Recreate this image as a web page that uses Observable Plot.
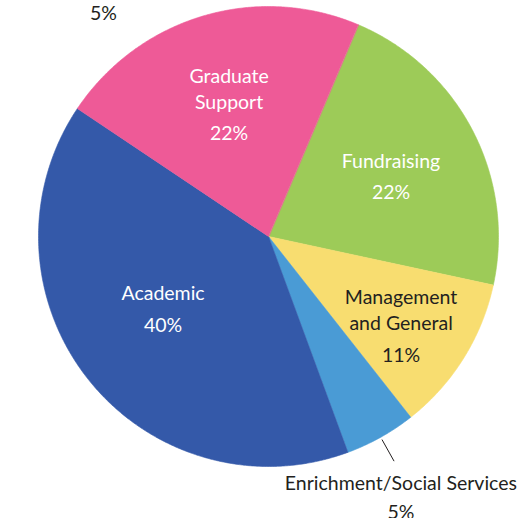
<!DOCTYPE html>
<html><head><meta charset="utf-8">
<script src="https://cdn.jsdelivr.net/npm/d3@7"></script>
<script src="https://cdn.jsdelivr.net/npm/@observablehq/plot@0.6"></script>
<style>
html,body{margin:0;padding:0;background:#fff;}
#chart svg{display:block;}
</style></head><body><div id="chart"></div>
<script>
// ---- data ----
const categories = ["Fundraising", "Management and General", "Enrichment/Social Services", "Academic", "Graduate Support"];
const nameLines = [["Fundraising"], ["Management", "and General"], ["Enrichment/Social Services"], ["Academic"], ["Graduate", "Support"]];
const shares = [22, 11, 5, 40, 22];
const percentLabels = ["22%", "11%", "5%", "40%", "22%"];
const sliceColors = ["#9dcb58", "#f8dd70", "#4a9bd5", "#3459a9", "#ee5a97"];
const strayLabel = ["5%"];

// ---- layout ----
const W = 531, H = 518, CX = 268, CY = 236, R = 230;
const startDeg = 23;
const fontSize = 19.5, nameGap = 26, pctGap = 31.5;
const dark = "#231f20";
const labelStyle = {
  "Fundraising": {r: 0.6, dx: 0, dy: 2, color: "white"},
  "Management and General": {r: 0.69, dx: -2, dy: 4, color: dark},
  "Academic": {r: 0.6, dx: 3, dy: -14, color: "white"},
  "Graduate Support": {r: 0.6, dx: 0, dy: -1, color: "white"},
  "Enrichment/Social Services": {outside: true, color: dark}
};

const table = categories.map((c, i) => ({cat: c, share: shares[i], lines: nameLines[i], pct: percentLabels[i]}));
const rad = Math.PI / 180;
const arcs = d3.pie().sort(null).value(d => d.share)
  .startAngle(startDeg * rad).endAngle(startDeg * rad + 2 * Math.PI)(table);

// polar -> plot coordinates (x right, y down, centred on pie)
const pt = (r, a) => [r * Math.sin(a), -r * Math.cos(a)];

const slicePts = [];
for (const a of arcs) {
  slicePts.push({cat: a.data.cat, x: 0, y: 0});
  const n = Math.max(2, Math.ceil((a.endAngle - a.startAngle) / (0.4 * rad)));
  for (let k = 0; k <= n; k++) {
    const t = a.startAngle + (a.endAngle - a.startAngle) * k / n;
    const [x, y] = pt(R, t);
    slicePts.push({cat: a.data.cat, x, y});
  }
}

const nameRows = [], pctRows = [], leaders = [];
for (const a of arcs) {
  const d = a.data, s = labelStyle[d.cat];
  const mid = (a.startAngle + a.endAngle) / 2;
  const n = d.lines.length;
  if (s.outside) {
    const [x1, y1] = pt(R + 3, mid);
    const [x2, y2] = pt(R + 27, mid);
    leaders.push({x: x1, y: y1, g: d.cat}, {x: x2, y: y2, g: d.cat});
    nameRows.push({x: x2 + 7, y: y2 + 21, text: d.lines.join("\n"), color: s.color});
    pctRows.push({x: x2 + 7, y: y2 + 50, text: d.pct, color: s.color});
  } else {
    const [px, py] = pt(R * s.r, mid);
    const x = px + s.dx, y = py + s.dy;
    nameRows.push({x, y: y - pctGap / 2, text: d.lines.join("\n"), color: s.color});
    pctRows.push({x, y: y + nameGap * (n - 1) / 2 + pctGap / 2, text: d.pct, color: s.color});
  }
}

const textOpts = {fontFamily: "Lato, 'Open Sans', sans-serif", fontSize, textAnchor: "middle", lineAnchor: "middle", lineHeight: nameGap / fontSize};

const chart = Plot.plot({
  width: W, height: H,
  marginTop: 0, marginRight: 0, marginBottom: 0, marginLeft: 0,
  x: {domain: [-CX, W - CX], range: [0, W], axis: null},
  y: {domain: [-CY, H - CY], range: [0, H], axis: null},
  color: {type: "ordinal", domain: categories, range: sliceColors},
  style: {background: "white"},
  marks: [
    Plot.line(slicePts, {x: "x", y: "y", z: "cat", fill: "cat", stroke: "cat", strokeWidth: 0.6, curve: "linear-closed"}),
    Plot.line(leaders, {x: "x", y: "y", z: "g", stroke: dark, strokeWidth: 1}),
    Plot.text(nameRows, {...textOpts, x: "x", y: "y", text: "text", fill: d => d.color}),
    Plot.text(pctRows, {...textOpts, x: "x", y: "y", text: "text", fill: d => d.color}),
    Plot.text(strayLabel, {...textOpts, text: d => d, frameAnchor: "top-left", dx: 103, dy: 11, fill: dark})
  ]
});
document.getElementById("chart").appendChild(chart);
</script>
</body></html>
